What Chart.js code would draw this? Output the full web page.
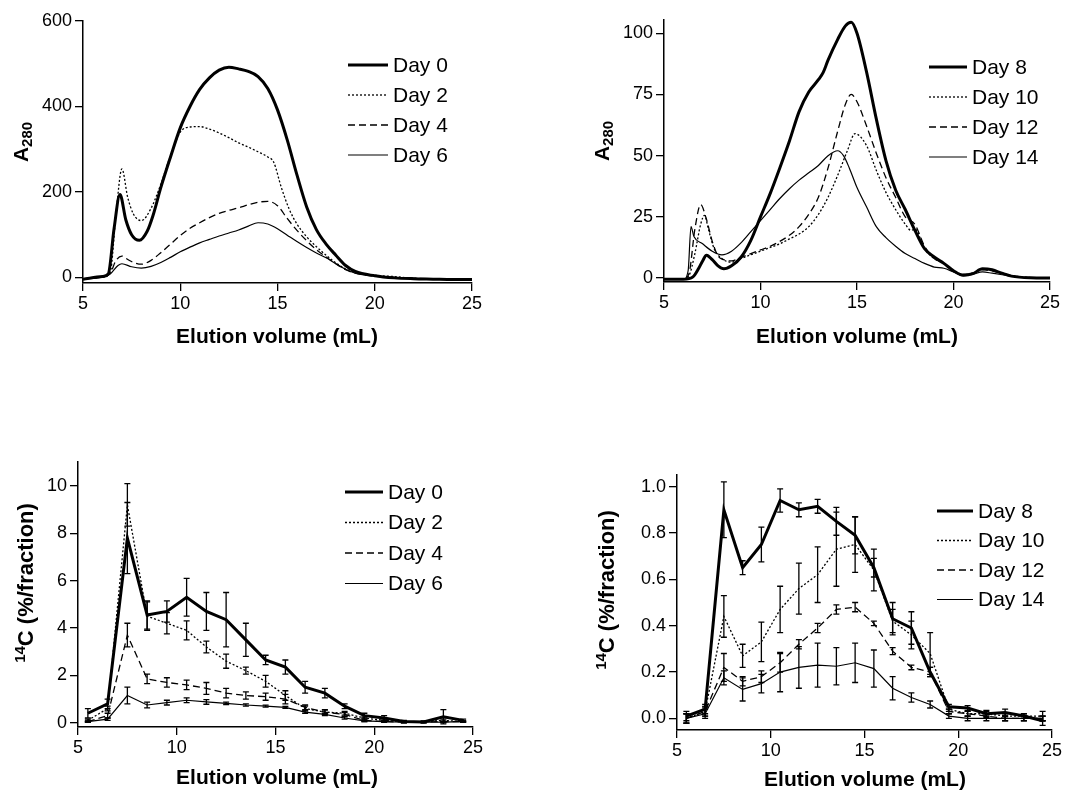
<!DOCTYPE html>
<html>
<head>
<meta charset="utf-8">
<script src="https://cdn.jsdelivr.net/npm/chart.js@4.4.1/dist/chart.umd.min.js"></script>
<style>
  body { margin: 0; background: #fff; }
  #wrap { position: relative; width: 1067px; height: 792px; }
  canvas { position: absolute; }
</style>
</head>
<body>
<div id="wrap">
  <canvas id="c1" width="533" height="396" style="left:0;top:0"></canvas>
  <canvas id="c2" width="534" height="396" style="left:533px;top:0"></canvas>
  <canvas id="c3" width="533" height="396" style="left:0;top:396px"></canvas>
  <canvas id="c4" width="534" height="396" style="left:533px;top:396px"></canvas>
</div>
<script>
// ---- data ----
const xTicks = [5, 10, 15, 20, 25];
const xTitle = 'Elution volume (mL)';

// top left: A280, days 0-6
const days1 = ['Day 0', 'Day 2', 'Day 4', 'Day 6'];
const yTicks1 = [0, 200, 400, 600];
const p1Day0X = [5, 6, 6.3, 6.6, 6.9, 7.2, 7.5, 7.9, 8.3, 8.6, 9, 9.5, 10, 10.5, 11, 11.5, 12, 12.5, 13, 13.5, 14, 14.5, 15, 15.5, 16, 16.5, 17, 17.5, 18, 18.5, 19, 20, 21, 22, 23, 24, 25];
const p1Day0Y = [-4, 2, 8, 115, 194, 135, 100, 87, 108, 145, 210, 282, 350, 400, 440, 467, 485, 492, 488, 482, 470, 442, 392, 322, 240, 165, 112, 78, 52, 28, 14, 4, -1, -3, -4, -5, -5];
const p1Day2X = [5, 6, 6.4, 6.7, 7.0, 7.3, 7.6, 8.0, 8.5, 9, 9.5, 10, 10.5, 11, 11.5, 12, 12.5, 13, 13.5, 14, 14.5, 14.8, 15.2, 15.6, 16, 16.5, 17, 17.5, 18, 18.5, 19, 20, 21, 22, 23, 24, 25];
const p1Day2Y = [-3, 1, 12, 150, 254, 187, 148, 133, 162, 218, 285, 340, 352, 353, 347, 338, 327, 315, 305, 294, 282, 270, 210, 160, 125, 95, 72, 52, 34, 20, 12, 5, 2, -2, -3, -4, -4];
const p1Day4X = [5, 6, 6.4, 6.7, 7.0, 7.3, 7.6, 8.0, 8.5, 9, 9.5, 10, 10.5, 11, 11.5, 12, 12.5, 13, 13.5, 14, 14.5, 15, 15.5, 16, 16.5, 17, 17.5, 18, 18.5, 19, 20, 21, 22, 23, 24, 25];
const p1Day4Y = [-3, 1, 10, 40, 50, 42, 35, 31, 40, 58, 78, 98, 115, 128, 140, 150, 157, 163, 170, 176, 178, 168, 138, 110, 86, 65, 48, 32, 18, 10, 3, 0, -2, -3, -4, -4];
const p1Day6X = [5, 6, 6.4, 6.8, 7.0, 7.5, 8.0, 8.5, 9, 9.5, 10, 10.5, 11, 11.5, 12, 12.5, 13, 13.5, 14, 14.5, 15, 15.5, 16, 16.5, 17, 17.5, 18, 18.5, 19, 20, 21, 22, 23, 24, 25];
const p1Day6Y = [-3, 1, 8, 28, 32, 25, 22, 26, 35, 47, 60, 71, 81, 89, 97, 104, 111, 120, 128, 125, 114, 99, 84, 70, 57, 46, 32, 19, 10, 3, 0, -2, -3, -4, -4];

// top right: A280, days 8-14
const days2 = ['Day 8', 'Day 10', 'Day 12', 'Day 14'];
const yTicks2 = [0, 25, 50, 75, 100];
const p2Day8X = [5, 6, 6.5, 6.8, 7.0, 7.2, 7.5, 7.8, 8.1, 8.5, 9, 9.5, 10, 10.5, 11, 11.5, 12, 12.5, 13, 13.25, 13.5, 14, 14.4, 14.7, 15, 15.5, 16, 16.5, 17, 17.5, 18, 18.5, 19, 19.5, 20, 20.5, 21, 21.5, 22, 22.5, 23, 24, 25];
const p2Day8Y = [-0.5, -0.5, 0.5, 4, 7, 9.3, 7.5, 5, 3.8, 5, 8.6, 15.4, 25, 34.5, 45, 56, 68, 76, 81, 84, 89, 97.5, 103, 104.5, 100, 84, 65, 48, 36, 28, 19.5, 12, 8.6, 6, 3, 1.2, 1.8, 3.8, 3.4, 2, 0.8, 0.1, 0];
const p2Day10X = [5, 6, 6.3, 6.6, 6.9, 7.1, 7.3, 7.6, 8.0, 8.5, 9, 9.5, 10, 10.5, 11, 11.5, 12, 12.5, 13, 13.5, 14, 14.5, 14.9, 15.5, 16, 16.5, 17, 17.5, 17.8, 18, 18.5, 19, 19.5, 20, 20.5, 21, 21.5, 22, 23, 24, 25];
const p2Day10Y = [-0.5, -0.5, 1, 10, 22, 25.6, 20, 12, 8, 6.5, 8, 9.5, 11, 12.5, 14, 16, 18, 21, 26, 33, 42, 52, 59, 54, 44, 35, 28, 22, 19.5, 20, 12, 8, 6, 3, 1.5, 2, 3.5, 3, 1, 0.2, 0];
const p2Day12X = [5, 6, 6.3, 6.6, 6.9, 7.2, 7.5, 7.8, 8.1, 8.5, 9, 9.5, 10, 10.5, 11, 11.5, 12, 12.5, 13, 13.5, 14, 14.4, 14.7, 15, 15.5, 16, 16.5, 17, 17.5, 18, 18.5, 19, 19.5, 20, 20.5, 21, 21.5, 22, 23, 24, 25];
const p2Day12Y = [-0.5, -0.5, 2, 20, 30, 24, 15, 9, 7.5, 7, 8.5, 10, 11.5, 13, 15, 17.5, 21, 26, 33, 45, 60, 71, 75, 72, 62, 51, 41, 33, 25, 22, 13, 8, 6, 3, 1.5, 2, 3.5, 3, 1, 0.2, 0];
const p2Day14X = [5, 6, 6.25, 6.4, 6.55, 7.0, 7.5, 8.0, 8.5, 9, 9.5, 10, 10.5, 11, 11.5, 12, 12.5, 13, 13.5, 14, 14.3, 14.6, 15, 15.5, 16, 16.5, 17, 17.5, 18, 18.5, 19, 19.5, 20, 20.5, 21, 21.5, 22, 23, 24, 25];
const p2Day14Y = [-0.5, -0.5, 3, 21, 17, 14, 11, 9.5, 11, 14.5, 19, 23.5, 28, 32.5, 36.5, 40, 43, 46, 50, 52, 50, 45, 37, 29, 21, 16.5, 13, 10, 8, 6, 4.5, 4, 2.5, 1, 1.5, 2.5, 2, 0.8, 0.1, 0];

// bottom panels: 14C per fraction
const fractionX = [5.5, 6.5, 7.5, 8.5, 9.5, 10.5, 11.5, 12.5, 13.5, 14.5, 15.5, 16.5, 17.5, 18.5, 19.5, 20.5, 21.5, 22.5, 23.5, 24.5];
const yTicks3 = [0, 2, 4, 6, 8, 10];
const p3Day0 = [0.4, 0.8, 7.8, 4.55, 4.7, 5.3, 4.7, 4.35, 3.5, 2.65, 2.35, 1.5, 1.25, 0.7, 0.3, 0.2, 0.05, 0.03, 0.25, 0.1];
const p3Day0Err = [0.2, 0.2, 1.5, 0.6, 0.45, 0.8, 0.8, 1.15, 0.7, 0.2, 0.3, 0.25, 0.2, 0.1, 0.1, 0.1, 0.05, 0.03, 0.3, 0.05];
const p3Day2 = [0.1, 0.6, 9.2, 4.5, 4.2, 3.9, 3.2, 2.6, 2.2, 1.75, 1.15, 0.6, 0.45, 0.4, 0.2, 0.1, 0.05, 0.05, 0.1, 0.05];
const p3Day2Err = [0.05, 0.1, 0.9, 0.6, 0.45, 0.4, 0.25, 0.3, 0.15, 0.25, 0.2, 0.1, 0.08, 0.08, 0.05, 0.05, 0.03, 0.03, 0.05, 0.03];
const p3Day4 = [0.05, 0.3, 3.7, 1.85, 1.7, 1.6, 1.45, 1.25, 1.15, 1.1, 1.0, 0.65, 0.45, 0.35, 0.1, 0.05, 0.03, 0.03, 0.05, 0.05];
const p3Day4Err = [0.03, 0.1, 0.5, 0.2, 0.2, 0.2, 0.25, 0.2, 0.15, 0.15, 0.2, 0.1, 0.1, 0.08, 0.05, 0.03, 0.02, 0.02, 0.03, 0.03];
const p3Day6 = [0.05, 0.15, 1.15, 0.75, 0.85, 0.95, 0.88, 0.82, 0.75, 0.7, 0.65, 0.45, 0.35, 0.2, 0.08, 0.05, 0.02, 0.02, 0.03, 0.05];
const p3Day6Err = [0.03, 0.05, 0.35, 0.12, 0.1, 0.1, 0.1, 0.05, 0.05, 0.04, 0.04, 0.05, 0.05, 0.05, 0.03, 0.02, 0.02, 0.02, 0.02, 0.02];

const yTicks4 = [0, 0.2, 0.4, 0.6, 0.8, 1.0];
const p4Day8 = [0.01, 0.04, 0.9, 0.65, 0.75, 0.94, 0.9, 0.915, 0.85, 0.79, 0.65, 0.43, 0.39, 0.2, 0.05, 0.045, 0.02, 0.025, 0.01, -0.01];
const p4Day8Err = [0.02, 0.02, 0.12, 0.03, 0.075, 0.05, 0.03, 0.03, 0.06, 0.08, 0.04, 0.07, 0.07, 0.02, 0.01, 0.01, 0.015, 0.015, 0.01, 0.02];
const p4Day10 = [0.0, 0.03, 0.44, 0.27, 0.33, 0.47, 0.56, 0.62, 0.73, 0.75, 0.64, 0.42, 0.36, 0.28, 0.04, 0.02, 0.02, 0.01, 0.01, 0.01];
const p4Day10Err = [0.02, 0.02, 0.09, 0.05, 0.085, 0.1, 0.11, 0.12, 0.16, 0.12, 0.09, 0.05, 0.06, 0.09, 0.01, 0.01, 0.01, 0.01, 0.01, 0.02];
const p4Day12 = [0.0, 0.03, 0.22, 0.16, 0.18, 0.24, 0.32, 0.39, 0.47, 0.48, 0.41, 0.29, 0.22, 0.2, 0.03, 0.02, 0.01, 0.0, 0.0, 0.0];
const p4Day12Err = [0.02, 0.02, 0.06, 0.02, 0.025, 0.04, 0.02, 0.02, 0.02, 0.02, 0.01, 0.015, 0.01, 0.02, 0.01, 0.01, 0.01, 0.01, 0.01, 0.01];
const p4Day14 = [0.0, 0.02, 0.175, 0.125, 0.15, 0.2, 0.22, 0.23, 0.225, 0.24, 0.215, 0.13, 0.09, 0.06, 0.01, 0.0, 0.0, 0.0, 0.0, 0.0];
const p4Day14Err = [0.02, 0.02, 0.03, 0.05, 0.04, 0.085, 0.09, 0.095, 0.08, 0.085, 0.08, 0.05, 0.02, 0.015, 0.01, 0.01, 0.01, 0.01, 0.01, 0.01];

// ---- styling ----
const FONT = "'Liberation Sans', Arial, Helvetica, sans-serif";
Chart.defaults.font.family = FONT;
Chart.defaults.color = '#000';
Chart.defaults.animation = false;

// thick solid, dotted, dashed, thin solid
const lineStyles = [
  { borderWidth: 3, borderDash: [] },
  { borderWidth: 1.3, borderDash: [2, 2] },
  { borderWidth: 1.3, borderDash: [7, 4] },
  { borderWidth: 1.2, borderDash: [] }
];

function curve(label, xs, ys, k) {
  return {
    label,
    data: xs.map((x, i) => ({ x, y: ys[i] })),
    borderColor: '#000',
    pointRadius: 0,
    fill: false,
    cubicInterpolationMode: 'monotone',
    ...lineStyles[k]
  };
}

function fractions(label, ys, errs, k) {
  return {
    label,
    data: fractionX.map((x, i) => ({ x, y: ys[i] })),
    errors: errs,
    borderColor: '#000',
    pointRadius: 0,
    fill: false,
    tension: 0,
    ...lineStyles[k]
  };
}

// error bars drawn through the y scale
const errorBars = {
  id: 'errorBars',
  afterDatasetsDraw(chart) {
    const ctx = chart.ctx, ys = chart.scales.y;
    chart.data.datasets.forEach((ds, i) => {
      if (!ds.errors) return;
      const meta = chart.getDatasetMeta(i);
      ctx.save();
      ctx.strokeStyle = '#000';
      ctx.lineWidth = 1.3;
      meta.data.forEach((pt, j) => {
        const v = ds.data[j].y, e = ds.errors[j];
        const top = ys.getPixelForValue(v + e), bot = ys.getPixelForValue(v - e);
        ctx.beginPath();
        ctx.moveTo(pt.x, top); ctx.lineTo(pt.x, bot);
        ctx.moveTo(pt.x - 3, top); ctx.lineTo(pt.x + 3, top);
        ctx.moveTo(pt.x - 3, bot); ctx.lineTo(pt.x + 3, bot);
        ctx.stroke();
      });
      ctx.restore();
    });
  }
};

// legend + axis titles (sub/superscripts need manual drawing)
const figText = {
  id: 'figText',
  afterDraw(chart, args, o) {
    const ctx = chart.ctx;
    ctx.save();
    // legend
    chart.data.datasets.forEach((ds, i) => {
      const y = o.legend.y + i * o.legend.dy;
      ctx.beginPath();
      ctx.lineWidth = ds.borderWidth;
      ctx.setLineDash(ds.borderDash);
      ctx.strokeStyle = '#000';
      ctx.moveTo(o.legend.x0, y);
      ctx.lineTo(o.legend.x1, y);
      ctx.stroke();
      ctx.setLineDash([]);
      ctx.fillStyle = '#000';
      ctx.font = `21px ${FONT}`;
      ctx.textAlign = 'left';
      ctx.textBaseline = 'middle';
      ctx.fillText(ds.label, o.legend.x1 + 5, y + 1);
    });
    // x title
    ctx.font = `bold 21px ${FONT}`;
    ctx.textAlign = 'center';
    ctx.textBaseline = 'middle';
    ctx.fillText(xTitle, o.xTitle[0], o.xTitle[1]);
    // y title, rotated, made of segments
    ctx.translate(o.yTitle[0], o.yTitle[1]);
    ctx.rotate(-Math.PI / 2);
    let total = 0;
    o.ySegs.forEach(s => { ctx.font = `bold ${s.size}px ${FONT}`; s.w = ctx.measureText(s.text).width; total += s.w; });
    let x = -total / 2;
    ctx.textAlign = 'left';
    ctx.textBaseline = 'alphabetic';
    o.ySegs.forEach(s => {
      ctx.font = `bold ${s.size}px ${FONT}`;
      ctx.fillText(s.text, x, 7.5 + s.dy);
      x += s.w;
    });
    ctx.restore();
  }
};

function scales(yMin, yMax, yTicks, fmt) {
  const grid = { drawOnChartArea: false, tickLength: 8, color: '#000', lineWidth: 1.3 };
  const border = { color: '#000', width: 1.5 };
  return {
    x: {
      type: 'linear', min: 5, max: 25, grid, border,
      afterBuildTicks: s => { s.ticks = xTicks.map(v => ({ value: v })); },
      afterFit: s => { s.height = 30; },
      ticks: { font: { size: 18 }, padding: 2, maxRotation: 0, autoSkip: false }
    },
    y: {
      type: 'linear', min: yMin, max: yMax, grid, border,
      afterBuildTicks: s => { s.ticks = yTicks.map(v => ({ value: v })); },
      afterFit: s => { s.width = 60; },
      ticks: { font: { size: 18 }, padding: 3, autoSkip: false, callback: v => fmt(v) }
    }
  };
}

function makeChart(id, datasets, sc, padding, text) {
  return new Chart(document.getElementById(id), {
    type: 'line',
    data: { datasets },
    options: {
      responsive: false,
      devicePixelRatio: 1,
      layout: { padding },
      scales: sc,
      plugins: { legend: { display: false }, tooltip: { enabled: false }, figText: text }
    },
    plugins: [errorBars, figText]
  });
}

const A280 = () => [{ text: 'A', size: 21, dy: 0 }, { text: '280', size: 15, dy: 4 }];
const C14 = () => [{ text: '14', size: 15, dy: -8 }, { text: 'C (%/fraction)', size: 22, dy: 0 }];

makeChart('c1', [
  curve(days1[0], p1Day0X, p1Day0Y, 0),
  curve(days1[1], p1Day2X, p1Day2Y, 1),
  curve(days1[2], p1Day4X, p1Day4Y, 2),
  curve(days1[3], p1Day6X, p1Day6Y, 3)
], scales(-13, 600, yTicks1, v => String(v)),
  { left: 23, right: 61, top: 21, bottom: 83 },
  { legend: { x0: 348, x1: 388, y: 65, dy: 30 }, xTitle: [277, 337], yTitle: [20, 142], ySegs: A280() });

makeChart('c2', [
  curve(days2[0], p2Day8X, p2Day8Y, 0),
  curve(days2[1], p2Day10X, p2Day10Y, 1),
  curve(days2[2], p2Day12X, p2Day12Y, 2),
  curve(days2[3], p2Day14X, p2Day14Y, 3)
], scales(-1.6, 105.4, yTicks2, v => String(v)),
  { left: 71, right: 17, top: 20, bottom: 84 },
  { legend: { x0: 396, x1: 434, y: 67, dy: 30 }, xTitle: [324, 337], yTitle: [68, 141], ySegs: A280() });

makeChart('c3', [
  fractions(days1[0], p3Day0, p3Day0Err, 0),
  fractions(days1[1], p3Day2, p3Day2Err, 1),
  fractions(days1[2], p3Day4, p3Day4Err, 2),
  fractions(days1[3], p3Day6, p3Day6Err, 3)
], scales(-0.18, 11.01, yTicks3, v => String(v)),
  { left: 18, right: 60, top: 66, bottom: 35 },
  { legend: { x0: 345, x1: 383, y: 96, dy: 30.5 }, xTitle: [277, 382], yTitle: [25, 187], ySegs: C14() });

makeChart('c4', [
  fractions(days2[0], p4Day8, p4Day8Err, 0),
  fractions(days2[1], p4Day10, p4Day10Err, 1),
  fractions(days2[2], p4Day12, p4Day12Err, 2),
  fractions(days2[3], p4Day14, p4Day14Err, 3)
], scales(-0.05, 1.05, yTicks4, v => v.toFixed(1)),
  { left: 84, right: 15, top: 79, bottom: 32 },
  { legend: { x0: 404, x1: 440, y: 115, dy: 29.5 }, xTitle: [332, 384], yTitle: [73, 194], ySegs: C14() });
</script>
</body>
</html>
